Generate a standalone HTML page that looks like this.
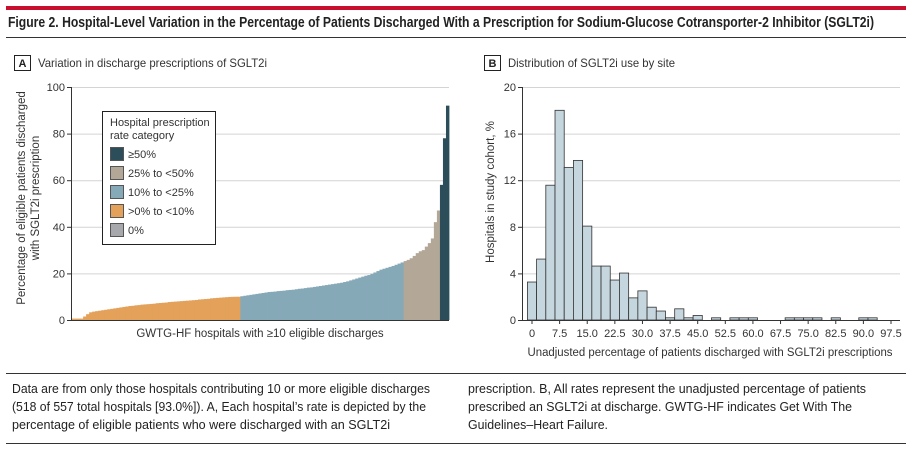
<!DOCTYPE html>
<html><head><meta charset="utf-8"><style>
html,body{margin:0;padding:0;background:#fff;}
svg{display:block;font-family:"Liberation Sans",sans-serif;}
</style></head><body>
<svg id="fig" width="912" height="452" viewBox="0 0 912 452" xmlns="http://www.w3.org/2000/svg">
<rect x="0" y="0" width="912" height="452" fill="#fff"/>
<rect x="6" y="6" width="900" height="4" fill="#c8102e"/>
<text x="8" y="27" font-size="14.5" font-weight="bold" fill="#222" textLength="866" lengthAdjust="spacingAndGlyphs">Figure 2. Hospital-Level Variation in the Percentage of Patients Discharged With a Prescription for Sodium-Glucose Cotransporter-2 Inhibitor (SGLT2i)</text>
<line x1="6" y1="37.5" x2="906" y2="37.5" stroke="#333" stroke-width="1"/>

<g>
<rect x="14.5" y="55.5" width="16" height="15" fill="none" stroke="#222"/>
<text x="22.5" y="67" font-size="11" font-weight="bold" text-anchor="middle" fill="#222">A</text>
<text x="38" y="67" font-size="12" fill="#333" textLength="229" lengthAdjust="spacingAndGlyphs">Variation in discharge prescriptions of SGLT2i</text>
</g>
<g>
<rect x="484.5" y="55.5" width="16" height="15" fill="none" stroke="#222"/>
<text x="492.5" y="67" font-size="11" font-weight="bold" text-anchor="middle" fill="#222">B</text>
<text x="508" y="67" font-size="12" fill="#333" textLength="167" lengthAdjust="spacingAndGlyphs">Distribution of SGLT2i use by site</text>
</g>

<g id="chartA"></g>
<g id="chartB"></g>

<g>
<rect x="102.5" y="111.5" width="113" height="133" fill="#fff" stroke="#222"/>
<text x="110" y="126" font-size="11" fill="#333">Hospital prescription</text>
<text x="110" y="139" font-size="11" fill="#333">rate category</text>
<g><rect x="110.5" y="147.5" width="13" height="13" fill="#2c4d5a" stroke="#555"/><text x="128" y="158" font-size="11" fill="#333">≥50%</text></g>
<g><rect x="110.5" y="166.5" width="13" height="13" fill="#b3a898" stroke="#555"/><text x="128" y="177" font-size="11" fill="#333">25% to &lt;50%</text></g>
<g><rect x="110.5" y="185.5" width="13" height="13" fill="#86a9b8" stroke="#555"/><text x="128" y="196" font-size="11" fill="#333">10% to &lt;25%</text></g>
<g><rect x="110.5" y="204.5" width="13" height="13" fill="#e3a15a" stroke="#555"/><text x="128" y="215" font-size="11" fill="#333">&gt;0% to &lt;10%</text></g>
<g><rect x="110.5" y="223.5" width="13" height="13" fill="#a7a8ab" stroke="#555"/><text x="128" y="234" font-size="11" fill="#333">0%</text></g>
</g>

<line x1="6" y1="373.5" x2="906" y2="373.5" stroke="#333"/>
<g font-size="12.5" fill="#222">
<text x="12" y="393" textLength="418" lengthAdjust="spacingAndGlyphs">Data are from only those hospitals contributing 10 or more eligible discharges</text>
<text x="12" y="411" textLength="414" lengthAdjust="spacingAndGlyphs">(518 of 557 total hospitals [93.0%]). A, Each hospital’s rate is depicted by the</text>
<text x="12" y="429" textLength="378" lengthAdjust="spacingAndGlyphs">percentage of eligible patients who were discharged with an SGLT2i</text>
<text x="468" y="393" textLength="398" lengthAdjust="spacingAndGlyphs">prescription. B, All rates represent the unadjusted percentage of patients</text>
<text x="468" y="411" textLength="384" lengthAdjust="spacingAndGlyphs">prescribed an SGLT2i at discharge. GWTG-HF indicates Get With The</text>
<text x="468" y="429" textLength="140" lengthAdjust="spacingAndGlyphs">Guidelines–Heart Failure.</text>
</g>
<line x1="6" y1="443.5" x2="906" y2="443.5" stroke="#333"/>
</svg>
<script>
const NS="http://www.w3.org/2000/svg";
// Panel A: sorted hospital rates (%)
const hospitalRates=[0.6,0.6,0.6,0.6,1.5,2.5,3.3,3.6,3.8,4.0,4.2,4.4,4.6,4.8,5.0,5.2,5.4,5.6,5.8,6.0,6.1,6.3,6.4,6.6,6.7,6.8,6.9,7.0,7.2,7.3,7.4,7.5,7.7,7.8,7.9,8.0,8.1,8.2,8.3,8.4,8.5,8.6,8.8,8.9,9.0,9.1,9.3,9.4,9.5,9.6,9.7,9.8,9.9,9.95,9.98,9.99,10.2,10.4,10.6,10.8,11.0,11.2,11.4,11.6,11.8,12.0,12.1,12.2,12.4,12.5,12.6,12.8,12.9,13.0,13.2,13.4,13.5,13.7,13.9,14.0,14.2,14.4,14.6,14.8,15.0,15.2,15.4,15.6,15.8,16.0,16.3,16.6,17.0,17.4,17.8,18.2,18.6,19.0,19.3,19.8,20.4,21.0,21.6,22.0,22.4,22.8,23.2,23.7,24.2,24.7,25.3,25.8,26.5,27.5,28.7,29.5,30.0,31.5,33,35,42,47,58,78,92];
const yTicksA=[0,20,40,60,80,100];
// Panel B: histogram
const binCenters=[0,2.5,5,7.5,10,12.5,15,17.5,20,22.5,25,27.5,30,32.5,35,37.5,40,42.5,45,47.5,50,52.5,55,57.5,60,62.5,65,67.5,70,72.5,75,77.5,80,82.5,85,87.5,90,92.5];
const binPercents=[3.26,5.23,11.57,18,13.1,13.7,8.06,4.63,4.63,3.43,4.03,1.9,2.5,1.1,0.77,0.19,0.96,0.19,0.39,0,0.19,0,0.19,0.19,0.19,0,0,0,0.19,0.19,0.19,0.19,0,0.19,0,0,0.19,0.19];
const xTickLabelsB=["0","7.5","15.0","22.5","30.0","37.5","45.0","52.5","60.0","67.5","75.0","82.5","90.0","97.5"];
const yTicksB=[0,4,8,12,16,20];

function el(tag,attrs,parent){const e=document.createElementNS(NS,tag);for(const k in attrs)e.setAttribute(k,attrs[k]);parent.appendChild(e);return e;}
function txt(parent,x,y,s,size,anchor,extra){const t=el("text",Object.assign({x:x,y:y,"font-size":size,"text-anchor":anchor||"start",fill:"#333"},extra||{}),parent);t.textContent=s;return t;}

// Chart A
const gA=document.getElementById("chartA");
const aL=71,aR=449,aT=87,aB=320;
const yA=v=>aB-(v/100)*(aB-aT);
yTicksA.forEach(v=>{
 if(v>0){const g=el("line",{x1:aL,x2:aR,y1:yA(v)+0.5,y2:yA(v)+0.5,stroke:"#d4d4d4"},gA);}
 el("line",{x1:aL-4,x2:aL,y1:yA(v)+0.5,y2:yA(v)+0.5,stroke:"#333"},gA);
 const t=txt(gA,aL-6,yA(v)+4,String(v),11,"end");
 
});
function catColor(v){if(v>=50)return"#2c4d5a";if(v>=25)return"#b3a898";if(v>=10)return"#86a9b8";if(v>0)return"#e3a15a";return"#a7a8ab";}
const bw=(aR-aL)/hospitalRates.length;
hospitalRates.forEach((v,i)=>{
 const r=el("rect",{x:aL+i*bw,y:yA(v),width:bw+0.4,height:aB-yA(v),fill:catColor(v)},gA);
 
 
});
el("line",{x1:aL+0.5,x2:aL+0.5,y1:aT,y2:aB,stroke:"#333"},gA);
el("line",{x1:aL,x2:aR,y1:aB+0.5,y2:aB+0.5,stroke:"#333"},gA);
let t1=txt(gA,260,337,"GWTG-HF hospitals with ≥10 eligible discharges",11.5,"middle");

let t2=txt(gA,0,0,"Percentage of eligible patients discharged",11.5,"middle",{transform:"translate(25,198) rotate(-90)"});

let t3=txt(gA,0,0,"with SGLT2i prescription",11.5,"middle",{transform:"translate(39,198) rotate(-90)"});


// Chart B
const gB=document.getElementById("chartB");
const bL=522,bR=900,bT=87,bB=320;
const x0=532,xPer=(891-532)/97.5;
const xB=v=>x0+v*xPer;
const yB=v=>bB-(v/20)*(bB-bT);
yTicksB.forEach(v=>{
 if(v>0){const g=el("line",{x1:bL,x2:bR,y1:yB(v)+0.5,y2:yB(v)+0.5,stroke:"#d4d4d4"},gB);}
 el("line",{x1:bL-4,x2:bL,y1:yB(v)+0.5,y2:yB(v)+0.5,stroke:"#333"},gB);
 const t=txt(gB,bL-6,yB(v)+4,String(v),11,"end");
 
});
binCenters.forEach((c,i)=>{
 const v=binPercents[i]; if(v<=0)return;
 const r=el("rect",{x:xB(c-1.25),y:yB(v),width:2.5*xPer,height:bB-yB(v),fill:"#c5d6de",stroke:"#333","stroke-width":0.8},gB);
 
 
});
el("line",{x1:bL+0.5,x2:bL+0.5,y1:bT,y2:bB,stroke:"#333"},gB);
el("line",{x1:bL,x2:bR,y1:bB+0.5,y2:bB+0.5,stroke:"#333"},gB);
xTickLabelsB.forEach((s,i)=>{
 const v=parseFloat(s);
 el("line",{x1:xB(v),x2:xB(v),y1:bB,y2:bB+4,stroke:"#333"},gB);
 const t=txt(gB,xB(v),bB+17,s,11,"middle");
 
});
let t4=txt(gB,710,356,"Unadjusted percentage of patients discharged with SGLT2i prescriptions",11.5,"middle",{textLength:365,lengthAdjust:"spacingAndGlyphs"});

let t5=txt(gB,0,0,"Hospitals in study cohort, %",11.5,"middle",{transform:"translate(494,192) rotate(-90)"});

</script>
</body></html>
